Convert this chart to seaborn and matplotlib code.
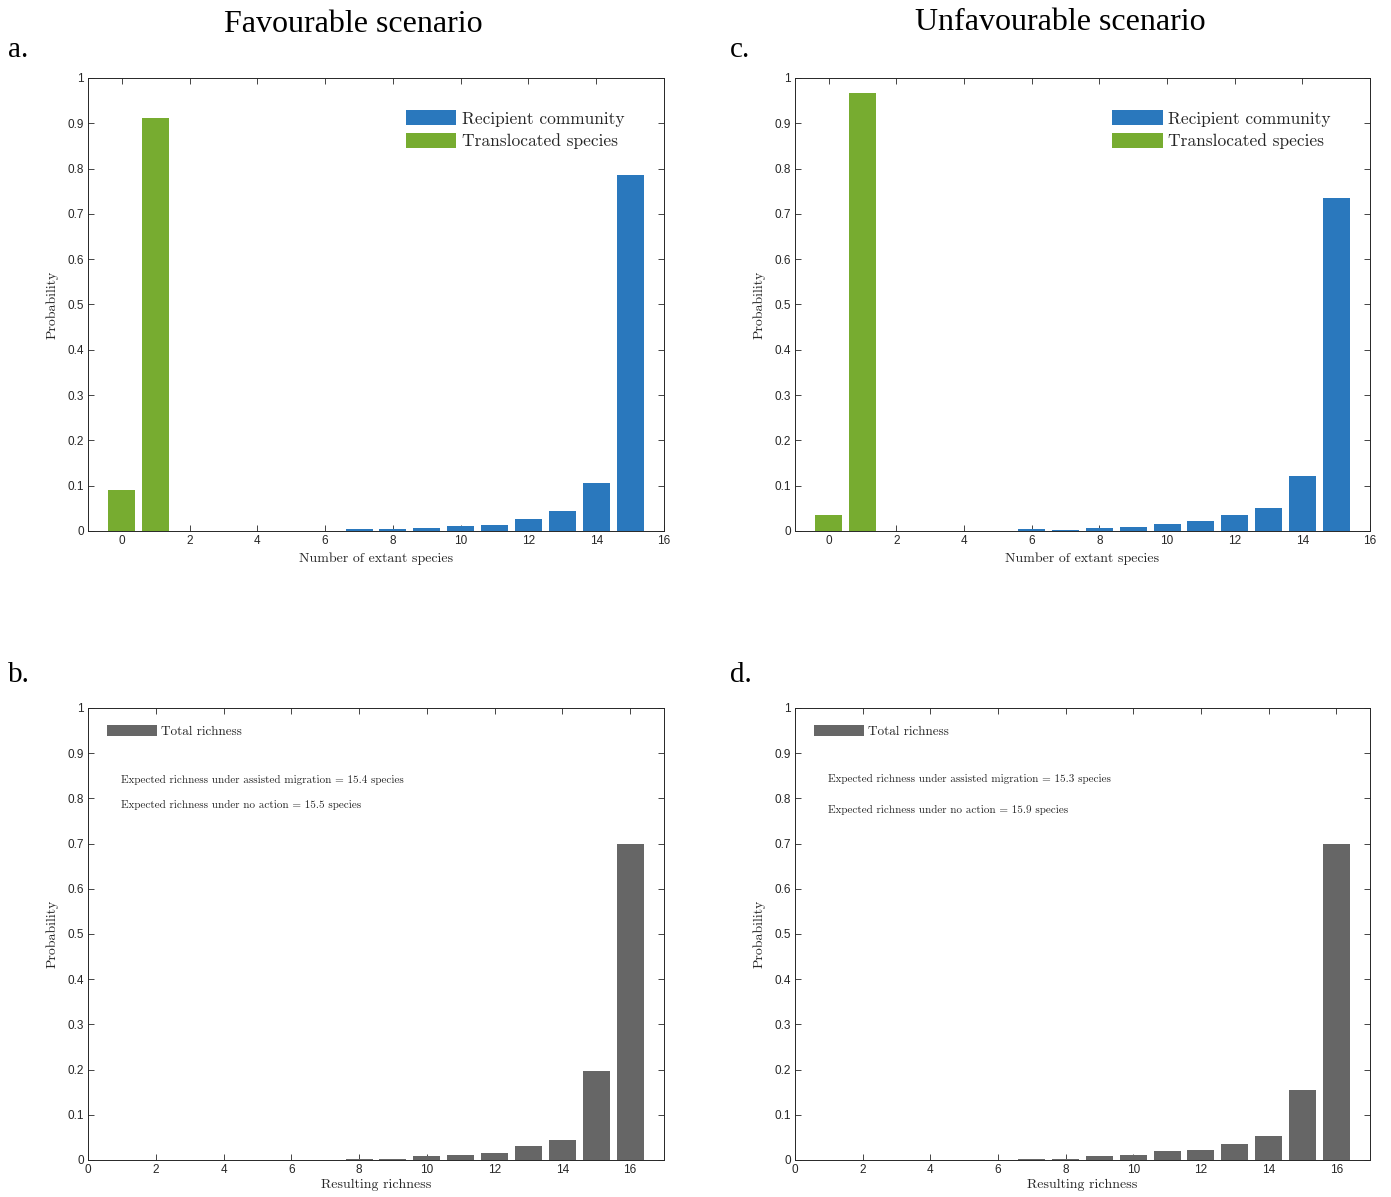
import numpy as np
import pandas as pd
import matplotlib
matplotlib.use("Agg")
import matplotlib.pyplot as plt
from matplotlib.patches import Patch
import seaborn as sns

# ---- data -------------------------------------------------------------
# Favourable scenario
fav_recip_x = [7, 8, 9, 10, 11, 12, 13, 14, 15]
fav_recip_p = [0.004, 0.004, 0.007, 0.011, 0.014, 0.027, 0.044, 0.107, 0.786]
fav_trans_x = [0, 1]
fav_trans_p = [0.090, 0.912]
fav_total_x = [8, 9, 10, 11, 12, 13, 14, 15, 16]
fav_total_p = [0.003, 0.003, 0.009, 0.012, 0.016, 0.030, 0.044, 0.197, 0.699]
fav_expected_am = 15.4
fav_expected_none = 15.5

# Unfavourable scenario
unf_recip_x = [6, 7, 8, 9, 10, 11, 12, 13, 14, 15]
unf_recip_p = [0.004, 0.003, 0.006, 0.008, 0.016, 0.021, 0.035, 0.050, 0.121, 0.735]
unf_trans_x = [0, 1]
unf_trans_p = [0.035, 0.967]
unf_total_x = [7, 8, 9, 10, 11, 12, 13, 14, 15, 16]
unf_total_p = [0.003, 0.003, 0.009, 0.012, 0.019, 0.022, 0.035, 0.052, 0.155, 0.700]
unf_expected_am = 15.3
unf_expected_none = 15.9

titles = ["Favourable scenario", "Unfavourable scenario"]
panel_letters = ["a.", "b.", "c.", "d."]

BLUE = "#2a78bd"
GREEN = "#77ac30"
GREY = "#666666"
AXC = "#262626"

sns.set_theme(style="white")
plt.rcParams["font.family"] = ["DejaVu Sans"]

SERIF = "cmr10"
TICKF = "Liberation Sans"
TIMES = "Liberation Serif"

fig = plt.figure(figsize=(13.91, 11.97), dpi=100)
W, H = 1391, 1197


def axes_at(x0, x1, ytop, ybot):
    return fig.add_axes([x0 / W, 1 - ybot / H, (x1 - x0) / W, (ybot - ytop) / H])


ax_a = axes_at(88, 664, 78, 531)
ax_c = axes_at(795, 1370, 78, 531)
ax_b = axes_at(88, 664, 708, 1160)
ax_d = axes_at(795, 1370, 708, 1160)


def style_axes(ax, xlim, xticks):
    ax.set_xlim(*xlim)
    ax.set_ylim(0, 1)
    ax.set_xticks(xticks)
    ax.set_xticklabels([str(t) for t in xticks], fontfamily=TICKF, fontsize=8.5)
    yt = np.round(np.arange(0, 1.01, 0.1), 1)
    ax.set_yticks(yt)
    ax.set_yticklabels(["0" if v == 0 else ("1" if v == 1 else f"{v:.1f}") for v in yt],
                       fontfamily=TICKF, fontsize=8.5)
    ax.tick_params(direction="in", length=4, width=0.6, color=AXC, colors=AXC,
                   top=True, right=True, bottom=True, left=True, pad=3)
    for s in ax.spines.values():
        s.set_visible(True)
        s.set_color(AXC)
        s.set_linewidth(0.7)
    ax.set_ylabel("Probability", fontfamily=SERIF, fontsize=10, color=AXC, labelpad=6)


def bars(ax, x, p, color):
    sns.barplot(x=x, y=p, native_scale=True, color=color, width=0.8,
                saturation=1, linewidth=0, edgecolor="none", ax=ax)


def top_panel(ax, rx, rp, tx, tp):
    bars(ax, rx, rp, BLUE)
    bars(ax, tx, tp, GREEN)
    style_axes(ax, (-1, 16), list(range(0, 17, 2)))
    ax.set_xlabel("Number of extant species", fontfamily=SERIF, fontsize=10,
                  color=AXC, labelpad=4)
    handles = [Patch(facecolor=BLUE, edgecolor="none", label="Recipient community"),
               Patch(facecolor=GREEN, edgecolor="none", label="Translocated species")]
    ax.legend(handles=handles, loc="upper left", bbox_to_anchor=(0.54, 0.945),
              frameon=False, prop={"family": SERIF, "size": 12.5},
              handlelength=2.9, handleheight=1.0, handletextpad=0.3,
              labelspacing=0.35, borderaxespad=0)


def bottom_panel(ax, x, p, e_am, e_none, ty1, ty2):
    bars(ax, x, p, GREY)
    style_axes(ax, (0, 17), list(range(0, 17, 2)))
    ax.set_xlabel("Resulting richness", fontfamily=SERIF, fontsize=10,
                  color=AXC, labelpad=2)
    handles = [Patch(facecolor=GREY, edgecolor="none", label="Total richness")]
    ax.legend(handles=handles, loc="upper left", bbox_to_anchor=(0.024, 0.975),
              frameon=False, prop={"family": SERIF, "size": 9.5},
              handlelength=3.8, handleheight=1.0, handletextpad=0.3,
              borderaxespad=0)
    ax.text(0.058, ty1, f"Expected richness under assisted migration = {e_am} species",
            transform=ax.transAxes, fontfamily=SERIF, fontsize=8, color=AXC, va="center")
    ax.text(0.058, ty2, f"Expected richness under no action = {e_none} species",
            transform=ax.transAxes, fontfamily=SERIF, fontsize=8, color=AXC, va="center")


top_panel(ax_a, fav_recip_x, fav_recip_p, fav_trans_x, fav_trans_p)
top_panel(ax_c, unf_recip_x, unf_recip_p, unf_trans_x, unf_trans_p)
bottom_panel(ax_b, fav_total_x, fav_total_p, fav_expected_am, fav_expected_none, 0.84, 0.785)
bottom_panel(ax_d, unf_total_x, unf_total_p, unf_expected_am, unf_expected_none, 0.843, 0.774)

# scenario titles and panel letters
fig.text(353 / W, 1 - 25 / H, titles[0], fontfamily=TIMES, fontsize=23,
         ha="center", va="center", color="black")
fig.text(1060 / W, 1 - 22 / H, titles[1], fontfamily=TIMES, fontsize=23,
         ha="center", va="center", color="black")
for letter, (lx, ly) in zip(panel_letters, [(8, 50), (8, 675), (730, 50), (730, 675)]):
    fig.text(lx / W, 1 - ly / H, letter, fontfamily=TIMES, fontsize=21,
             ha="left", va="center", color="black")

fig.savefig("out.png", dpi=100, facecolor="white")
